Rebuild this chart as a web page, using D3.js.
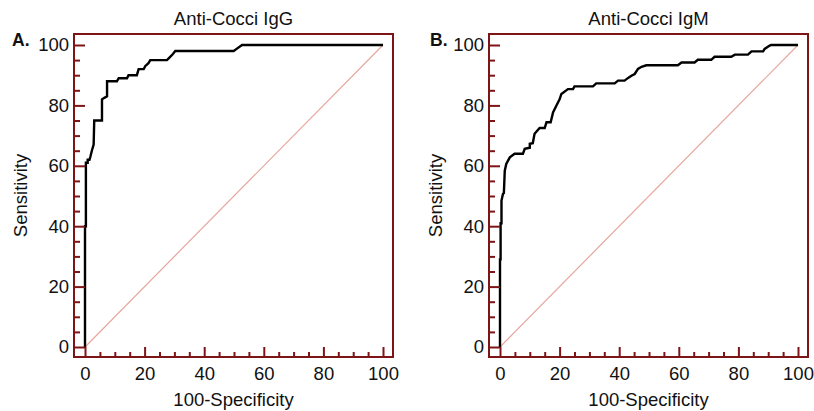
<!DOCTYPE html>
<html>
<head>
<meta charset="utf-8">
<script src="https://cdn.jsdelivr.net/npm/d3@7"></script>
<style>
  html, body { margin: 0; padding: 0; background: #fff; }
  svg { display: block; font-family: "Liberation Sans", Arial, sans-serif; }
</style>
</head>
<body>
<svg id="chart" width="814" height="411"></svg>
<script>
// ---- Data ----
const panelLabels = ["A.", "B."];
const panelTitles = ["Anti-Cocci IgG", "Anti-Cocci IgM"];
const xAxisTitle = "100-Specificity";
const yAxisTitle = "Sensitivity";
const majorTicks = [0, 20, 40, 60, 80, 100];
const minorTicks = [5, 10, 15, 25, 30, 35, 45, 50, 55, 65, 70, 75, 85, 90, 95];

// Panel A (IgG): 100-Specificity and Sensitivity of the ROC vertices
const fprA  = [0, 0, 0.3, 0.3, 0.9, 0.9, 1.5, 1.8, 2.3, 2.9, 3.1, 5.7, 5.7, 6.5, 7.4, 7.4, 10.7, 11.3, 14.1, 14.6, 17.4, 18.0, 19.7, 20.2, 21.3, 21.9, 27.5, 28.5, 29.5, 30.3, 49.9, 51.0, 52.7, 100];
const sensA = [0, 40, 40, 61, 61, 62, 62, 63, 65, 67, 75, 75, 82, 82.5, 83, 88, 88, 89, 89, 90, 90, 92, 92, 93, 94, 95, 95, 96, 97, 98, 98, 98.8, 100, 100];

// Panel B (IgM)
const fprB  = [0, 0, 0.2, 0.2, 0.5, 0.5, 1.0, 1.3, 1.6, 2.1, 2.7, 3.3, 4.9, 7.7, 8.3, 10.0, 10.0, 11.0, 11.6, 13.3, 15.0, 15.6, 17.0, 17.8, 18.9, 20.0, 20.6, 22.8, 24.5, 25.0, 31.2, 32.3, 38.5, 39.6, 41.8, 43.0, 44.1, 45.2, 46.3, 47.5, 49.1, 59.7, 60.9, 65.3, 66.4, 70.9, 72.0, 77.6, 78.8, 83.2, 84.4, 88.3, 88.8, 90.5, 91.0, 100];
const sensB = [0, 29, 29, 41, 41, 48.5, 50.7, 51, 58.4, 60.6, 61.7, 62.8, 64, 64, 65.6, 66, 67.3, 67.5, 70.6, 72.5, 72.5, 74.4, 74.4, 77.7, 79.9, 82, 83.8, 85.4, 85.4, 86.3, 86.3, 87.3, 87.3, 88.2, 88.2, 89.1, 89.8, 90.4, 92.1, 92.8, 93.3, 93.3, 94.2, 94.2, 95.1, 95.1, 96.1, 96.1, 96.8, 96.8, 97.9, 97.9, 98.7, 99.8, 100, 100];

const panels = [
  { label: panelLabels[0], title: panelTitles[0], fpr: fprA, sens: sensA, dx: 0 },
  { label: panelLabels[1], title: panelTitles[1], fpr: fprB, sens: sensB, dx: 415 }
];

// ---- Layout ----
const frame = { left: 74, right: 393, top: 34, bottom: 357 };
const frameColor = "#7d1517";
const fontSize = 18.5;

const svg = d3.select("#chart");

panels.forEach(p => {
  const g = svg.append("g").attr("transform", `translate(${p.dx},0)`);
  const x = d3.scaleLinear().domain([0, 100]).range([85, 383]);
  const y = d3.scaleLinear().domain([0, 100]).range([347, 45]);

  // diagonal reference line
  g.append("path")
    .datum([0, 100])
    .attr("d", d3.line().x(d => x(d)).y(d => y(d)))
    .attr("fill", "none")
    .attr("stroke", "#e6a69e")
    .attr("stroke-width", 1.2);

  // ROC curve
  const pts = p.fpr.map((v, i) => [v, p.sens[i]]);
  g.append("path")
    .datum(pts)
    .attr("d", d3.line().x(d => x(d[0])).y(d => y(d[1])))
    .attr("fill", "none")
    .attr("stroke", "#000")
    .attr("stroke-width", 2.4)
    .attr("stroke-linejoin", "miter");

  // Left axis ticks (inside the frame)
  const yMajor = g.append("g").attr("transform", `translate(${frame.left},0)`)
    .call(d3.axisRight(y).tickValues(majorTicks).tickSize(11).tickFormat(""));
  const yMinor = g.append("g").attr("transform", `translate(${frame.left},0)`)
    .call(d3.axisRight(y).tickValues(minorTicks).tickSize(6).tickFormat(""));
  const yLab = g.append("g").attr("transform", `translate(${frame.left},0)`)
    .call(d3.axisLeft(y).tickValues(majorTicks).tickSize(0).tickPadding(5));

  // Bottom axis ticks (inside the frame)
  const xMajor = g.append("g").attr("transform", `translate(0,${frame.bottom})`)
    .call(d3.axisTop(x).tickValues(majorTicks).tickSize(10).tickFormat(""));
  const xMinor = g.append("g").attr("transform", `translate(0,${frame.bottom})`)
    .call(d3.axisTop(x).tickValues(minorTicks).tickSize(5).tickFormat(""));
  const xLab = g.append("g").attr("transform", `translate(0,${frame.bottom})`)
    .call(d3.axisBottom(x).tickValues(majorTicks).tickSize(0).tickPadding(10));

  [yMajor, yMinor, xMajor, xMinor, yLab, xLab].forEach(a => a.select(".domain").remove());
  [yMajor, yMinor, xMajor, xMinor].forEach(a =>
    a.selectAll(".tick line").attr("stroke", frameColor).attr("stroke-width", 2));
  [yLab, xLab].forEach(a =>
    a.selectAll(".tick text")
      .attr("fill", "#111")
      .style("font-size", fontSize + "px")
      .style("font-family", "'Liberation Sans', Arial, sans-serif"));

  // frame
  g.append("rect")
    .attr("x", frame.left).attr("y", frame.top)
    .attr("width", frame.right - frame.left)
    .attr("height", frame.bottom - frame.top)
    .attr("fill", "none")
    .attr("stroke", frameColor)
    .attr("stroke-width", 2);

  // title
  g.append("text")
    .attr("x", (frame.left + frame.right) / 2).attr("y", 25)
    .attr("text-anchor", "middle")
    .attr("fill", "#111")
    .style("font-size", fontSize + "px")
    .text(p.title);

  // x axis title
  g.append("text")
    .attr("x", (frame.left + frame.right) / 2).attr("y", 406)
    .attr("text-anchor", "middle")
    .attr("fill", "#111")
    .style("font-size", fontSize + "px")
    .text(xAxisTitle);

  // y axis title
  g.append("text")
    .attr("transform", `translate(27,${(frame.top + frame.bottom) / 2}) rotate(-90)`)
    .attr("text-anchor", "middle")
    .attr("fill", "#111")
    .style("font-size", fontSize + "px")
    .text(yAxisTitle);

  // panel label
  g.append("text")
    .attr("x", 12 + (p.dx ? 3 : 0)).attr("y", 46)
    .attr("fill", "#111")
    .style("font-size", "17.5px")
    .style("font-weight", "bold")
    .text(p.label);
});
</script>
</body>
</html>
